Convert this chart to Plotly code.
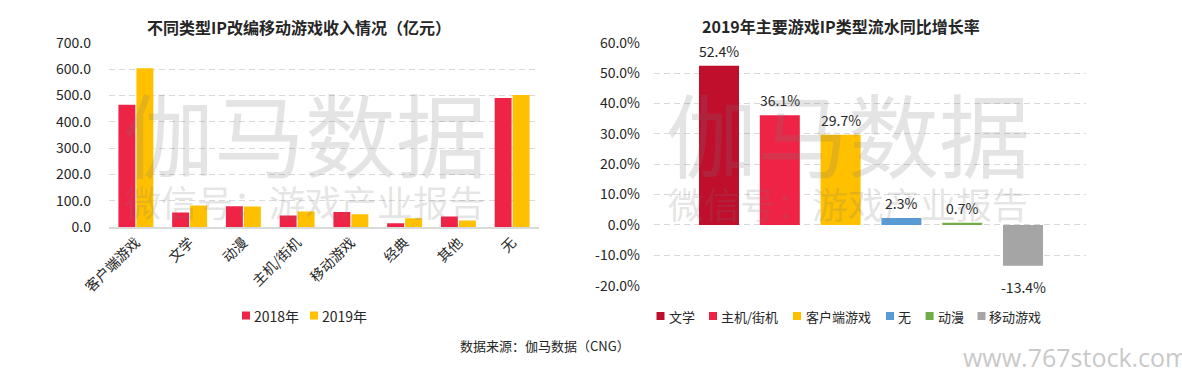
import plotly.graph_objects as go

# ---------------- data ----------------
left_categories = ["客户端游戏", "文学", "动漫", "主机/街机", "移动游戏", "经典", "其他", "无"]
revenue_2018 = [464.0, 55.0, 78.5, 44.0, 57.0, 14.0, 40.0, 490.0]
revenue_2019 = [603.0, 82.0, 78.0, 59.0, 48.0, 33.0, 25.0, 501.0]
left_series = ["2018年", "2019年"]
left_ticks = [0, 100, 200, 300, 400, 500, 600, 700]

right_categories = ["文学", "主机/街机", "客户端游戏", "无", "动漫", "移动游戏"]
growth_2019 = [52.4, 36.1, 29.7, 2.3, 0.7, -13.4]
right_ticks = [-20, -10, 0, 10, 20, 30, 40, 50, 60]

left_title = "不同类型IP改编移动游戏收入情况（亿元）"
right_title = "2019年主要游戏IP类型流水同比增长率"
source_text = "数据来源：伽马数据（CNG）"

# ---------------- styles ----------------
W, H = 1182, 374
FONT = "Noto Sans CJK SC"
left_colors = ["#EF2346", "#FFC000"]
right_colors = ["#C00E2D", "#EF2346", "#FFC000", "#5B9BD5", "#70AD47", "#A5A5A5"]
GRID = "#D9D9D9"
TXT = "#262626"


def px_x(v):
    return v / W


def px_y(v):
    return 1 - v / H


fig = go.Figure()

for name, vals, col in zip(left_series, [revenue_2018, revenue_2019], left_colors):
    fig.add_trace(go.Bar(name=name, x=left_categories, y=vals, marker_color=col,
                         marker_line_width=0, xaxis="x", yaxis="y"))

bw = 0.658
for i, (name, val, col) in enumerate(zip(right_categories, growth_2019, right_colors)):
    fig.add_trace(go.Bar(name=name, x=[i], y=[val], marker_color=col, width=bw, offset=-bw / 2,
                         marker_line_width=0, xaxis="x2", yaxis="y2"))


def paper_text(x, y, text, size, color=TXT, family=FONT, xanchor="center"):
    return dict(x=px_x(x), y=px_y(y), xref="paper", yref="paper", text=text,
                xanchor=xanchor, yanchor="middle", showarrow=False, borderpad=0,
                font=dict(family=family, size=size, color=color))


annotations = []
shapes = []

# value labels on the growth chart
for i, val in enumerate(growth_2019):
    annotations.append(dict(x=i, y=val, xref="x2", yref="y2", text=f"{val:.1f}%",
                            xanchor="center", yanchor="middle",
                            showarrow=False, yshift=15 if val >= 0 else -21,
                            font=dict(family=FONT, size=14, color=TXT)))

# titles / source
annotations.append(paper_text(299, 27, f"<b>{left_title}</b>", 16))
annotations.append(paper_text(841, 26, f"<b>{right_title}</b>", 16))
annotations.append(paper_text(544.5, 345, source_text, 13))

# watermarks
WM = "rgba(120,120,120,0.2)"
for cx, cy_small in ((305, 201), (848, 203)):
    annotations.append(paper_text(cx, 131, "伽马数据", 91, WM))
    annotations.append(paper_text(cx, cy_small, "微信号：游戏产业报告", 36, WM))
annotations.append(paper_text(962, 357, "www.767stock.com", 25, "#C9C9C9", "Open Sans", "left"))

# legends (square marker + label)
LEG_Y = 315.5
left_leg_sq = [242, 310]
left_leg_tx = [253, 321]
for name, col, sx, tx in zip(left_series, left_colors, left_leg_sq, left_leg_tx):
    shapes.append(dict(type="rect", xref="paper", yref="paper", x0=px_x(sx), x1=px_x(sx + 8),
                       y0=px_y(LEG_Y + 4), y1=px_y(LEG_Y - 4), fillcolor=col, line_width=0))
    annotations.append(paper_text(tx, LEG_Y, name, 14, xanchor="left"))

right_leg_sq = [656.5, 709, 793, 886, 925.6, 977.5]
right_leg_tx = [668, 720, 805, 897, 936.5, 988]
for name, col, sx, tx in zip(right_categories, right_colors, right_leg_sq, right_leg_tx):
    shapes.append(dict(type="rect", xref="paper", yref="paper", x0=px_x(sx), x1=px_x(sx + 8),
                       y0=px_y(LEG_Y + 4.5), y1=px_y(LEG_Y - 3.5), fillcolor=col, line_width=0))
    annotations.append(paper_text(tx, LEG_Y + 0.5, name, 13, xanchor="left"))

fig.update_layout(
    template="none",
    width=W, height=H,
    margin=dict(l=0, r=0, t=0, b=0, autoexpand=False),
    paper_bgcolor="white", plot_bgcolor="white",
    barmode="group", bargap=0.33, bargroupgap=0.06,
    font=dict(family=FONT, size=14, color=TXT),
    showlegend=False,
    xaxis=dict(domain=[px_x(109), px_x(539)], anchor="y", type="category",
               tickangle=-45, tickfont=dict(size=14), showgrid=False, automargin=False,
               showline=True, linecolor=GRID, linewidth=1.5, ticks="", zeroline=False),
    yaxis=dict(domain=[px_y(227), px_y(42.7)], anchor="x", range=[0, 700], automargin=False,
               tickmode="array", tickvals=left_ticks, ticktext=[f"{v:.1f}" for v in left_ticks],
               showgrid=True, gridcolor=GRID, gridwidth=1,
               griddash="6px,4px", zeroline=False, ticklabelstandoff=17, showline=False, ticks=""),
    xaxis2=dict(domain=[px_x(654), px_x(1086)], anchor="y2", range=[-1.069, 6.036], automargin=False,
                showticklabels=False, showgrid=False, zeroline=False, showline=False, ticks=""),
    yaxis2=dict(domain=[px_y(285.7), px_y(42.7)], anchor="x2", range=[-20, 60], automargin=False,
                tickmode="array", tickvals=right_ticks, ticktext=[f"{v:.1f}%" for v in right_ticks],
                showgrid=True, gridwidth=1,
                gridcolor=GRID, griddash="6px,4px", zeroline=False, ticklabelstandoff=13, ticks=""),
    annotations=annotations,
    shapes=shapes,
)

fig.write_html("out.html", config={"displayModeBar": False},
               post_script="document.body.style.margin = '0px';")
